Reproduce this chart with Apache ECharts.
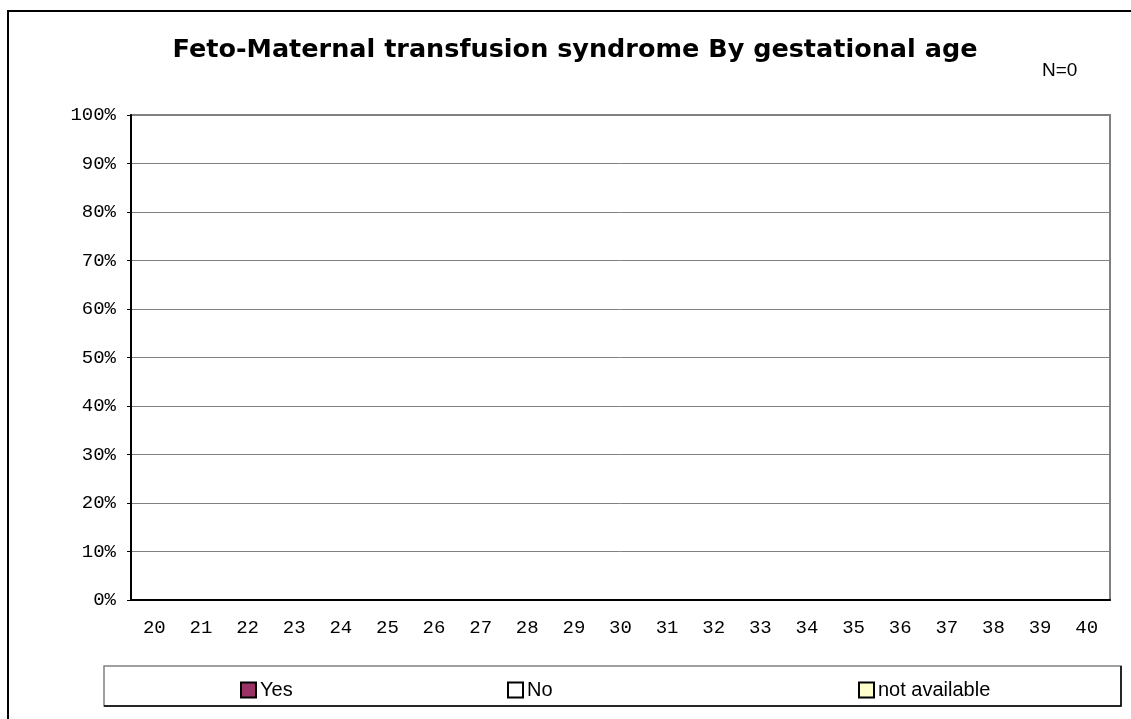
<!DOCTYPE html>
<html lang="en">
  <head>
    <meta charset="utf-8" />
    <title>Feto-Maternal transfusion syndrome By gestational age</title>
    <script src="https://cdn.jsdelivr.net/npm/echarts@6/dist/echarts.min.js"></script>
    <style>
      html, body { margin: 0; padding: 0; background: #fff; }
      #main { width: 1131px; height: 719px; }
    </style>
  </head>
  <body>
    <div id="main"></div>
    <script type="text/javascript">
      // gestational age in weeks
      var weeks = ['20', '21', '22', '23', '24', '25', '26', '27', '28', '29', '30',
                   '31', '32', '33', '34', '35', '36', '37', '38', '39', '40'];
      // percentages per week (N=0, so nothing to show)
      var yesPct = [0, 0, 0, 0, 0, 0, 0, 0, 0, 0, 0, 0, 0, 0, 0, 0, 0, 0, 0, 0, 0];
      var noPct  = [0, 0, 0, 0, 0, 0, 0, 0, 0, 0, 0, 0, 0, 0, 0, 0, 0, 0, 0, 0, 0];
      var naPct  = [0, 0, 0, 0, 0, 0, 0, 0, 0, 0, 0, 0, 0, 0, 0, 0, 0, 0, 0, 0, 0];
      var seriesNames = ['Yes', 'No', 'not available'];
      var seriesColors = ['#993366', '#ffffff', '#ffffcc'];

      var chartDom = document.getElementById('main');
      var myChart = echarts.init(chartDom);

      function legendAt(name, x) {
        return {
          data: [name],
          left: x,
          top: 675,
          itemWidth: 15,
          itemHeight: 15,
          itemGap: 0,
          icon: 'rect',
          selectedMode: false,
          textStyle: { fontFamily: 'Liberation Sans, Arial', fontSize: 20, color: '#000', padding: [0, 0, 0, -1] },
          itemStyle: { borderColor: '#000', borderWidth: 2 }
        };
      }

      var option = {
        animation: false,
        title: {
          text: 'Feto-Maternal transfusion syndrome By gestational age',
          left: 570,
          textAlign: 'center',
          top: 32,
          textStyle: { fontFamily: 'DejaVu Sans, Verdana', fontWeight: 'bold', fontSize: 25.5, color: '#000' }
        },
        graphic: [
          { type: 'rect', shape: { x: 8, y: 11, width: 1140, height: 720 },
            style: { fill: 'none', stroke: '#000', lineWidth: 2 }, silent: true },
          { type: 'text', left: 1042, top: 61,
            style: { text: 'N=0', font: '19px Liberation Sans, Arial', fill: '#000' } },
          { type: 'rect', shape: { x: 104, y: 666, width: 1017, height: 40 },
            style: { fill: 'none', stroke: '#808080', lineWidth: 1.5 }, silent: true, z: -1 },
          { type: 'polyline', shape: { points: [[1121, 666], [1121, 706], [104, 706]] },
            style: { fill: 'none', stroke: '#000', lineWidth: 1.5 }, silent: true }
        ],
        legend: [
          legendAt('Yes', 235),
          legendAt('No', 502),
          legendAt('not available', 853)
        ],
        grid: {
          left: 131,
          right: 21,
          top: 115,
          bottom: 119,
          show: true,
          borderColor: '#808080',
          borderWidth: 2,
          backgroundColor: '#fff'
        },
        xAxis: {
          type: 'category',
          data: weeks,
          boundaryGap: true,
          axisLine: { lineStyle: { color: '#000', width: 2 } },
          axisTick: { inside: true, length: 5, lineStyle: { color: '#000' } },
          axisLabel: { fontFamily: 'Liberation Mono, Courier New', fontSize: 19, color: '#000', margin: 18 },
          splitLine: { show: false }
        },
        yAxis: {
          type: 'value',
          min: 0,
          max: 100,
          interval: 10,
          axisLine: { show: true, lineStyle: { color: '#000', width: 2 } },
          axisTick: { show: true, length: 4, lineStyle: { color: '#000' } },
          axisLabel: { formatter: '{value}%', fontFamily: 'Liberation Mono, Courier New', fontSize: 19, color: '#000', margin: 15 },
          splitLine: { lineStyle: { color: '#808080', width: 1 } }
        },
        series: [
          { name: seriesNames[0], type: 'bar', stack: 'pct', data: yesPct, barWidth: '50%',
            itemStyle: { color: seriesColors[0] } },
          { name: seriesNames[1], type: 'bar', stack: 'pct', data: noPct, barWidth: '50%',
            itemStyle: { color: seriesColors[1] } },
          { name: seriesNames[2], type: 'bar', stack: 'pct', data: naPct, barWidth: '50%',
            itemStyle: { color: seriesColors[2] } }
        ]
      };

      myChart.setOption(option);
    </script>
  </body>
</html>
